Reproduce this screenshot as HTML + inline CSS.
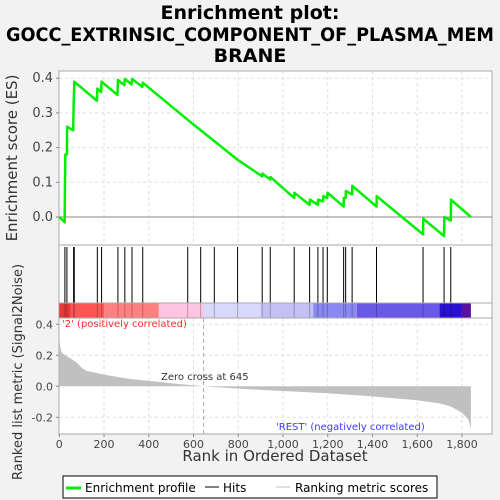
<!DOCTYPE html>
<html><head><meta charset="utf-8"><style>
body{margin:0;background:#f2f2f2;}
svg{display:block;font-family:"DejaVu Sans","Liberation Sans",sans-serif;}
</style></head><body>
<svg id="chart" width="500" height="500" viewBox="0 0 500 500">
<rect x="0" y="0" width="500" height="500" fill="#f2f2f2"/>
<g font-weight="bold" font-size="19" text-anchor="middle" fill="#000">
<text x="250" y="19">Enrichment plot:</text>
<text x="250" y="41" textLength="488" lengthAdjust="spacingAndGlyphs">GOCC_EXTRINSIC_COMPONENT_OF_PLASMA_MEM</text>
<text x="250" y="62">BRANE</text>
</g>
<rect x="59" y="71" width="433" height="363" fill="#fff" stroke="#aaa"/>
<g id="grid"></g>
<g id="colorbar"></g>
<g id="metric"></g>
<g id="hits"></g>
<g id="es"></g>
<line x1="59" y1="245" x2="492" y2="245" stroke="#aaa"/>
<line x1="59" y1="303" x2="492" y2="303" stroke="#aaa"/>
<line x1="59" y1="318" x2="492" y2="318" stroke="#aaa"/>
<g id="axes" font-size="13" fill="#444"></g>
<text x="17" y="158" font-size="15" fill="#333" text-anchor="middle" transform="rotate(-90 17 158)">Enrichment score (ES)</text>
<text x="22" y="372" font-size="13" fill="#333" text-anchor="middle" transform="rotate(-90 22 372)">Ranked list metric (Signal2Noise)</text>
<text x="275" y="461" font-size="15" fill="#333" text-anchor="middle">Rank in Ordered Dataset</text>
<text x="62" y="327" font-size="10" fill="#ff3030">'2' (positively correlated)</text>
<text x="276" y="430" font-size="10" fill="#3a3aff">'REST' (negatively correlated)</text>
<text x="161" y="380" font-size="10" fill="#333">Zero cross at 645</text>
<g>
<rect x="63" y="476" width="374" height="22" fill="#fff" stroke="#000"/>
<line x1="66" y1="488" x2="81" y2="488" stroke="#00ee00" stroke-width="3"/>
<text x="85" y="492" font-size="12" fill="#000">Enrichment profile</text>
<line x1="205" y1="487" x2="219" y2="487" stroke="#000"/>
<text x="223" y="492" font-size="12" fill="#000">Hits</text>
<line x1="276" y1="487" x2="290" y2="487" stroke="#c0c0c0"/>
<text x="295" y="492" font-size="12" fill="#000">Ranking metric scores</text>
</g>
</svg>
<script>
const hitRanks=[25,34,64,67,170,189,262,293,325,373,574,632,693,797,907,943,1050,1119,1156,1179,1198,1271,1280,1309,1418,1626,1720,1750];
const esRanks=[0,24,25,27,34,35,62,64,67,168,170,187,189,260,262,291,293,323,325,371,373,574,797,907,908,943,944,1050,1051,1119,1120,1156,1157,1179,1180,1198,1199,1271,1272,1280,1281,1309,1310,1418,1419,1626,1627,1720,1721,1750,1751,1840];
const esValues=[0,-0.015,0.08,0.18,0.18,0.26,0.25,0.32,0.39,0.335,0.37,0.36,0.39,0.352,0.395,0.38,0.398,0.382,0.398,0.375,0.387,0.28,0.165,0.117,0.125,0.108,0.115,0.055,0.07,0.035,0.05,0.035,0.05,0.045,0.06,0.055,0.07,0.03,0.055,0.055,0.075,0.065,0.09,0.03,0.06,-0.05,-0.005,-0.055,0.0,-0.01,0.05,0.0];
const metricRanks=[0,3,10,25,50,80,100,120,200,300,400,500,645,800,1000,1200,1400,1600,1700,1750,1800,1820,1830,1838,1840];
const metricValues=[0.33,0.26,0.22,0.2,0.18,0.15,0.12,0.1,0.075,0.05,0.035,0.02,0,-0.015,-0.03,-0.045,-0.065,-0.09,-0.11,-0.13,-0.17,-0.2,-0.22,-0.26,-0.28];
const esTicks=[0,0.1,0.2,0.3,0.4];
const metricTicks=[-0.2,0,0.2,0.4];
const xTicks=[0,200,400,600,800,1000,1200,1400,1600,1800];
const xTickLabels=["0","200","400","600","800","1,000","1,200","1,400","1,600","1,800"];
const barStarts=[0,50,200,445,645,900,1135,1330,1700,1800];
const barColors=["#e83838","#ff5555","#ff8080","#ffc4e4","#d8d8fa","#c4c0f4","#8a88f2","#6a58e6","#2a10d0","#5a10a0"];
const N=1840;
const NS="http://www.w3.org/2000/svg";
const X=r=>59.3+r*0.2237;
const YE=v=>217-v*347;
const YM=v=>386.3-v*155;
function mk(tag,attrs,parent){const e=document.createElementNS(NS,tag);for(const k in attrs)e.setAttribute(k,attrs[k]);document.getElementById(parent).appendChild(e);return e;}
xTicks.forEach(t=>{if(t===0)return;
 let g=mk('line',{x1:X(t),x2:X(t),y1:71,y2:245,stroke:'#ddd','stroke-dasharray':'3,3'},'grid');
 
 
 let g2=mk('line',{x1:X(t),x2:X(t),y1:318,y2:434,stroke:'#ddd','stroke-dasharray':'3,3'},'grid');
 
 });
esTicks.forEach(t=>{if(t===0)return;
 let g=mk('line',{x1:59,x2:492,y1:YE(t),y2:YE(t),stroke:'#ddd','stroke-dasharray':'3,3'},'grid');
 
 });
metricTicks.forEach(t=>{if(t===0)return;
 let g=mk('line',{x1:59,x2:492,y1:YM(t),y2:YM(t),stroke:'#ddd','stroke-dasharray':'3,3'},'grid');
 
 });
let z=mk('line',{x1:59,x2:492,y1:YE(0),y2:YE(0),stroke:'#888'},'grid');


let zc=mk('line',{x1:X(645),x2:X(645),y1:318,y2:434,stroke:'#aaa','stroke-dasharray':'4,3'},'grid');


barStarts.forEach((s,i)=>{const e=i+1<barStarts.length?barStarts[i+1]:N;
 let r=mk('rect',{x:X(s),y:303,width:X(e)-X(s),height:15,fill:barColors[i]},'colorbar');
 
 });
let d='M'+X(0)+','+YM(0);
metricRanks.forEach((r,i)=>{d+=' L'+X(r)+','+YM(metricValues[i]);});
d+=' L'+X(N)+','+YM(0)+'Z';
let ma=mk('path',{d:d,fill:'#c0c0c0'},'metric');


hitRanks.forEach(r=>{let l=mk('line',{x1:X(r),x2:X(r),y1:247,y2:303,stroke:'#000','stroke-width':1},'hits');
 
 
 let l2=mk('line',{x1:X(r),x2:X(r),y1:303,y2:318,stroke:'rgba(0,0,0,0.25)'},'hits');
 
 });
let p=esRanks.map((r,i)=>(i?'L':'M')+X(r)+','+YE(esValues[i])).join(' ');
let el=mk('path',{d:p,fill:'none',stroke:'#00ee00','stroke-width':2.5,'stroke-linejoin':'round'},'es');


esTicks.forEach(t=>{let tx=mk('text',{x:53,y:YE(t)+4,'text-anchor':'end'},'axes');tx.textContent=t.toFixed(1);
 
 
 mk('line',{x1:56,x2:59,y1:YE(t),y2:YE(t),stroke:'#888'},'axes');});
metricTicks.forEach(t=>{let tx=mk('text',{x:53,y:YM(t)+4,'text-anchor':'end','font-size':11},'axes');tx.textContent=t.toFixed(1);
 
 
 mk('line',{x1:56,x2:59,y1:YM(t),y2:YM(t),stroke:'#888'},'axes');});
xTicks.forEach((t,i)=>{let tx=mk('text',{x:X(t),y:448,'text-anchor':'middle','font-size':11},'axes');tx.textContent=xTickLabels[i];
 
 
 mk('line',{x1:X(t),x2:X(t),y1:434,y2:437,stroke:'#888'},'axes');});
</script>
</body></html>
